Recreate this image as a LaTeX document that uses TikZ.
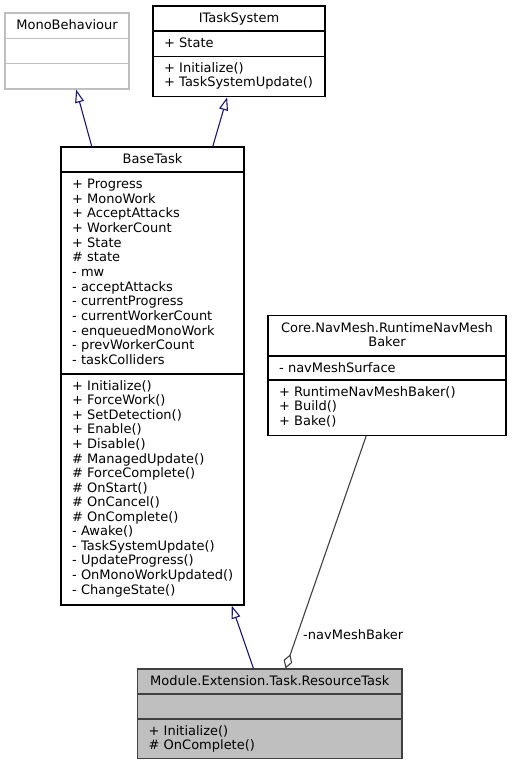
\documentclass[tikz,border=0pt]{standalone}
\usepackage{fontspec}
\setmainfont{DejaVu Sans}
\usetikzlibrary{arrows.meta,calc}
\definecolor{midnight}{HTML}{191970}
\definecolor{aggline}{HTML}{404040}
\definecolor{lightedge}{HTML}{BFBFBF}
\definecolor{resfill}{HTML}{BFBFBF}
\begin{document}
\begin{tikzpicture}[x=1pt,y=-1pt,
  classbox/.style={draw=black,line width=1.1pt,rectangle,inner sep=0pt},
  membertext/.style={inner sep=0pt,anchor=base west,font=\fontsize{13}{14.6}\selectfont},
  titletext/.style={inner sep=0pt,anchor=base,font=\fontsize{13}{14.6}\selectfont},
  inherit/.style={draw=midnight,line width=1.1pt,-{Triangle[open,length=13pt,width=9pt]}},
  aggreg/.style={draw=aggline,line width=1.1pt,{Diamond[open,length=15pt,width=9pt]}-},
  divider/.style={line width=1.1pt}
]
\useasboundingbox (0,0) rectangle (511,765);

% MonoBehaviour
\node[classbox,draw=lightedge,minimum width=124pt,minimum height=76pt] (mono) at (67,51) {};
\draw[divider,lightedge] (mono.west |- 0,38.3) -- (mono.east |- 0,38.3);
\draw[divider,lightedge] (mono.west |- 0,63.7) -- (mono.east |- 0,63.7);
\node[titletext] (monot) at (67,29.3) {MonoBehaviour};

% ITaskSystem
\node[classbox,minimum width=172pt,minimum height=90.7pt] (itask) at (239,51.35) {};
\draw[divider] (itask.west |- 0,31) -- (itask.east |- 0,31);
\draw[divider] (itask.west |- 0,56.5) -- (itask.east |- 0,56.5);
\node[titletext] (itaskt) at (239,22.3) {ITaskSystem};
\node[membertext] (itaska) at (164,47.3) {+ State};
\foreach \t [count=\i] in {+ Initialize(),+ TaskSystemUpdate()}
  \node[membertext] (itaskm\i) at (164,{72.3+14.6*(\i-1)}) {\t};

% BaseTask
\node[classbox,minimum width=183pt,minimum height=458pt] (base) at (152.5,376) {};
\draw[divider] (base.west |- 0,172) -- (base.east |- 0,172);
\draw[divider] (base.west |- 0,374) -- (base.east |- 0,374);
\node[titletext] (baset) at (152.5,163.3) {BaseTask};
\foreach \t [count=\i] in {+ Progress,+ MonoWork,+ AcceptAttacks,+ WorkerCount,+ State,\# state,- mw,- acceptAttacks,- currentProgress,- currentWorkerCount,- enqueuedMonoWork,- prevWorkerCount,- taskColliders}
  \node[membertext] (basea\i) at (72,{188.5+14.67*(\i-1)}) {\t};
\foreach \t [count=\i] in {+ Initialize(),+ ForceWork(),+ SetDetection(),+ Enable(),+ Disable(),\# ManagedUpdate(),\# ForceComplete(),\# OnStart(),\# OnCancel(),\# OnComplete(),- Awake(),- TaskSystemUpdate(),- UpdateProgress(),- OnMonoWorkUpdated(),- ChangeState()}
  \node[membertext] (basem\i) at (72,{390.3+14.55*(\i-1)}) {\t};

% Core.NavMesh.RuntimeNavMeshBaker
\node[classbox,minimum width=238pt,minimum height=120pt] (core) at (387,375.5) {};
\draw[divider] (core.west |- 0,356) -- (core.east |- 0,356);
\draw[divider] (core.west |- 0,380) -- (core.east |- 0,380);
\node[titletext] (coret1) at (387,332.3) {Core.NavMesh.RuntimeNavMesh};
\node[titletext] (coret2) at (387,346.9) {Baker};
\node[membertext] (corea) at (279,372.3) {- navMeshSurface};
\foreach \t [count=\i] in {+ RuntimeNavMeshBaker(),+ Build(),+ Bake()}
  \node[membertext] (corem\i) at (279,{396.3+14.6*(\i-1)}) {\t};

% Module.Extension.Task.ResourceTask
\node[classbox,draw=aggline,fill=resfill,minimum width=264.5pt,minimum height=89.3pt] (res) at (269.75,713.65) {};
\draw[divider,aggline] (res.west |- 0,694) -- (res.east |- 0,694);
\draw[divider,aggline] (res.west |- 0,719) -- (res.east |- 0,719);
\node[titletext] (rest) at (269.75,685.3) {Module.Extension.Task.ResourceTask};
\foreach \t [count=\i] in {+ Initialize(),\# OnComplete()}
  \node[membertext] (resm\i) at (148.5,{735.3+14.6*(\i-1)}) {\t};

% connectors
\draw[inherit] ($(base.north west)+(31.3,0)$) -- ($(mono.south west)+(71.7,0)$);
\draw[inherit] ($(base.north west)+(152.3,0)$) -- ($(itask.south west)+(74.7,0)$);
\draw[inherit] ($(res.north west)+(116.5,0)$) -- ($(base.south west)+(171.3,0)$);
\draw[aggreg] ($(res.north west)+(148.5,0)$) -- ($(core.south west)+(98.7,0)$);
\node[membertext] (agglabel) at (303,639.3) {-navMeshBaker};
\end{tikzpicture}
\end{document}
